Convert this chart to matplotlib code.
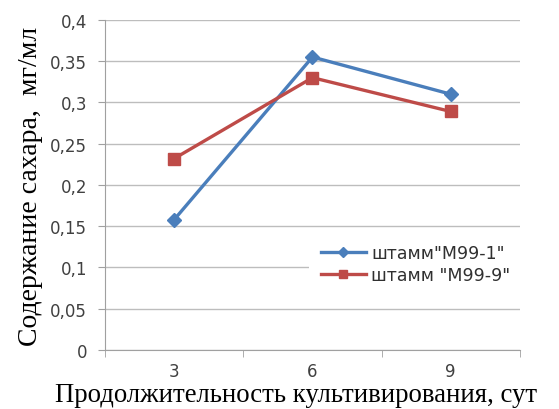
import matplotlib
matplotlib.use("Agg")
import matplotlib.pyplot as plt
import numpy as np

days = ["3", "6", "9"]
m99_1 = [0.158, 0.355, 0.310]
m99_9 = [0.232, 0.330, 0.289]
yticks = [0, 0.05, 0.1, 0.15, 0.2, 0.25, 0.3, 0.35, 0.4]
ytick_labels = ["0", "0,05", "0,1", "0,15", "0,2", "0,25", "0,3", "0,35", "0,4"]

fig = plt.figure(figsize=(5.59, 4.10), dpi=100)
ax = fig.add_axes([0.188, 0.144, 0.742, 0.805])

x = np.arange(len(days))
ax.plot(x, m99_1, color="#4a7ebb", lw=2.4, marker="D", ms=7,
        label='штамм"M99-1"', zorder=3)
ax.plot(x, m99_9, color="#be4b48", lw=2.4, marker="s", ms=9,
        label='штамм "M99-9"', zorder=3)

ax.set_xlim(-0.5, 2.5)
ax.set_ylim(0, 0.4)
ax.set_yticks(yticks)
ax.set_yticklabels(ytick_labels)
ax.set_xticks(x)
ax.set_xticklabels(days)
ax.set_xticks([-0.5, 0.5, 1.5, 2.5], minor=True)
ax.tick_params(axis="x", which="major", length=0, pad=9)
ax.tick_params(axis="x", which="minor", length=5, color="#a0a0a0", direction="out")
ax.tick_params(axis="y", length=5, color="#a0a0a0", pad=8)
ax.tick_params(labelsize=12, labelcolor="#404040")

ax.grid(axis="y", color="#bdbdbd", lw=1)
ax.set_axisbelow(True)
for s in ["top", "right"]:
    ax.spines[s].set_visible(False)
ax.spines["left"].set_color("#a0a0a0")
ax.spines["bottom"].set_color("#a0a0a0")

ax.set_ylabel("Содержание сахара,  мг/мл", family="Liberation Serif",
              fontsize=20)
ax.yaxis.set_label_coords(-0.15, 0.5)
fig.text(0.53, 0.02, "Продолжительность культивирования, сут",
         family="Liberation Serif", fontsize=19.3, ha="center")

leg = ax.legend(loc="center left", bbox_to_anchor=(0.47, 0.26), frameon=True,
                framealpha=1, edgecolor="none", fancybox=False,
                handlelength=2.6, fontsize=12.5, labelspacing=0.2,
                borderpad=0.7, handletextpad=0.3, markerscale=0.7)
for t in leg.get_texts():
    t.set_color("#303030")

fig.savefig("out.png", dpi=100)
